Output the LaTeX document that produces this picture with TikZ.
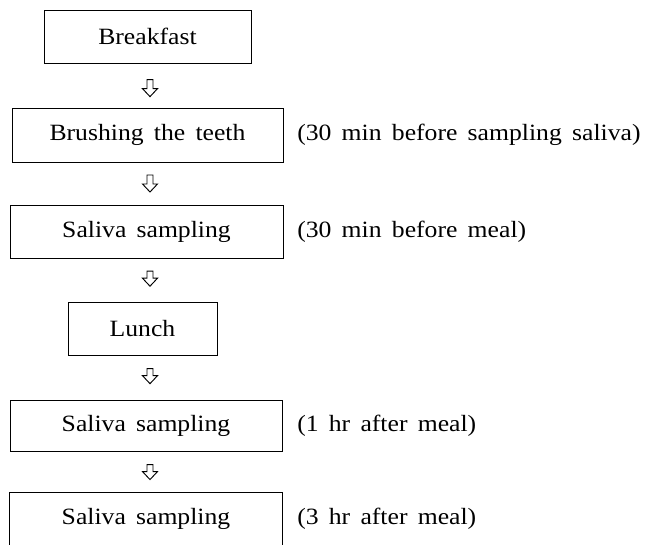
\documentclass[tikz,border=0pt]{standalone}
\usepackage{fontspec}
\setmainfont{Liberation Serif}[FakeStretch=1.1,WordSpace=1.6]
\usetikzlibrary{calc}
\newcommand\harr[2]{%
  \draw[line width=0.7pt,line join=miter] ($(#1)+(-3,-#2/2)$) -- ++(6,0) -- ++(0,#2-8) -- ++(4.5,0) -- ++(-7.5,8) -- ++(-7.5,-8) -- ++(4.5,0) -- cycle;}
\begin{document}
\begin{tikzpicture}[x=0.75pt,y=-0.75pt,
  every node/.style={font=\fontsize{17.5pt}{19pt}\selectfont},
  box/.style={draw, line width=0.65pt, inner sep=0pt},
  note/.style={anchor=base west, inner sep=0pt}]
\useasboundingbox (0,0) rectangle (647,545);
\clip (0,0) rectangle (647,545);
\node[box, minimum width=207*0.75pt, minimum height=53*0.75pt] (b1) at (147.5,36.5) {Breakfast};
\node[box, minimum width=271*0.75pt, minimum height=54*0.75pt] (b2) at (147.5,135) {Brushing the teeth};
\node[box, minimum width=273*0.75pt, minimum height=53*0.75pt] (b3) at (146.5,231.5) {Saliva sampling};
\node[box, minimum width=149*0.75pt, minimum height=53*0.75pt] (b4) at (142.5,328.5) {Lunch};
\node[box, minimum width=272*0.75pt, minimum height=51*0.75pt] (b5) at (146,425.5) {Saliva sampling};
\node[inner sep=0pt, minimum width=272*0.75pt, minimum height=51*0.75pt] (b6) at (146,518.5) {Saliva sampling};
\draw[line width=0.65pt] ([yshift=-20pt]b6.south west) -- (b6.north west) -- (b6.north east) -- ([yshift=-20pt]b6.south east);
\node[note] (n2) at (297,0 |- b2.base) {(30 min before sampling saliva)};
\node[note] (n3) at (297,0 |- b3.base) {(30 min before meal)};
\node[note] (n5) at (297,0 |- b5.base) {(1 hr after meal)};
\node[note] (n6) at (297,0 |- b6.base) {(3 hr after meal)};
\path (150,0 |- b1.south) -- (150,0 |- b2.north) coordinate[pos=0.56] (m1);
\path (150,0 |- b2.south) -- (150,0 |- b3.north) coordinate[pos=0.5] (m2);
\path (150,0 |- b3.south) -- (150,0 |- b4.north) coordinate[pos=0.47] (m3);
\path (150,0 |- b4.south) -- (150,0 |- b5.north) coordinate[pos=0.47] (m4);
\path (150,0 |- b5.south) -- (150,0 |- b6.north) coordinate[pos=0.5] (m5);
\harr{m1}{17}
\harr{m2}{17}
\harr{m3}{15}
\harr{m4}{15}
\harr{m5}{15}
\end{tikzpicture}
\end{document}
